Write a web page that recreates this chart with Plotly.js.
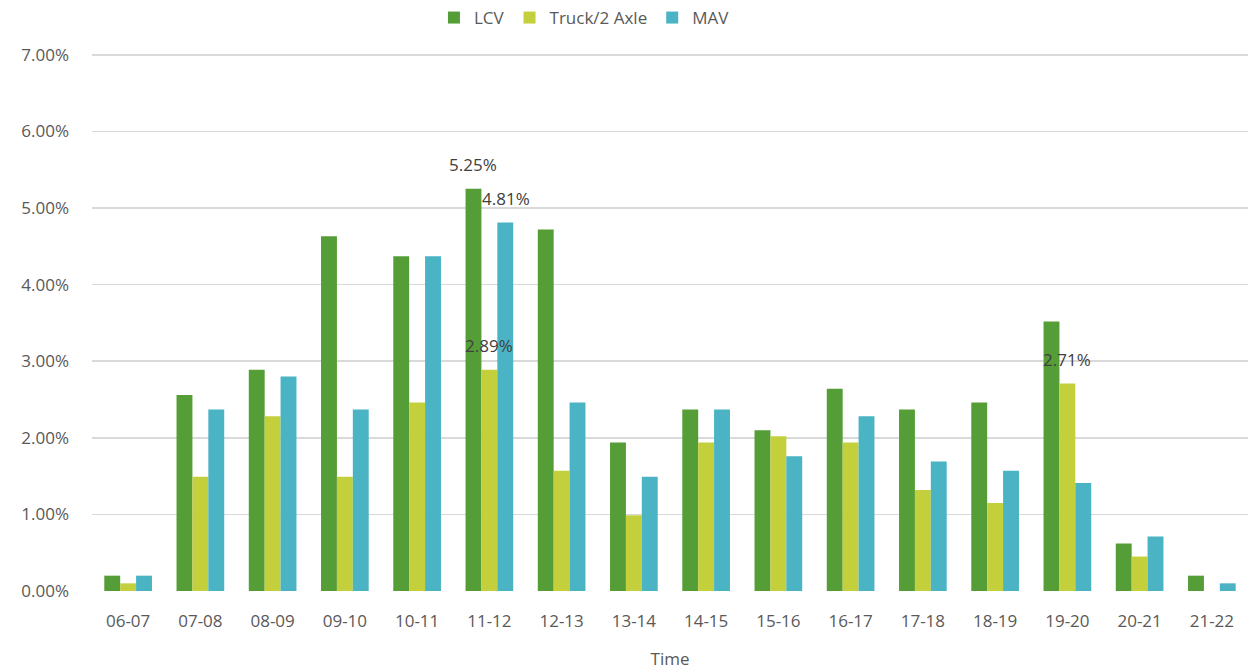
<!DOCTYPE html>
<html>
<head>
<meta charset="utf-8">
<script src="https://cdn.plot.ly/plotly-3.0.1.min.js"></script>
<style>html,body{margin:0;padding:0;background:#fff;}#chart{width:1249px;height:670px;}</style>
</head>
<body>
<div id="chart"></div>
<script>
const categories = ["06-07","07-08","08-09","09-10","10-11","11-12","12-13","13-14","14-15","15-16","16-17","17-18","18-19","19-20","20-21","21-22"];
const lcv   = [0.20, 2.56, 2.89, 4.63, 4.37, 5.25, 4.72, 1.94, 2.37, 2.10, 2.64, 2.37, 2.46, 3.52, 0.62, 0.20];
const truck = [0.10, 1.49, 2.28, 1.49, 2.46, 2.89, 1.57, 0.99, 1.94, 2.02, 1.94, 1.32, 1.15, 2.71, 0.45, 0.00];
const mav   = [0.20, 2.37, 2.80, 2.37, 4.37, 4.81, 2.46, 1.49, 2.37, 1.76, 2.28, 1.69, 1.57, 1.41, 0.71, 0.10];
const yTicks = [0, 1, 2, 3, 4, 5, 6, 7];
const yTickLabels = ["0.00%","1.00%","2.00%","3.00%","4.00%","5.00%","6.00%","7.00%"];
// labelled points: [series index, category index]
const labelled = [[0, 5], [2, 5], [1, 5], [1, 13]];

const seriesNames = ["LCV", "Truck/2 Axle", "MAV"];
const seriesData = [lcv, truck, mav];
const colors = ["#559E37", "#C3D03B", "#4AB4C5"];

const traces = seriesData.map((d, i) => ({
  type: "bar", name: seriesNames[i], x: categories, y: d,
  marker: {color: colors[i], line: {width: 0}},
  hoverinfo: "x+y"
}));

const barPx = 16.5;
const annotations = labelled.map(([s, c]) => ({
  x: categories[c], y: seriesData[s][c], xref: "x", yref: "y",
  text: seriesData[s][c].toFixed(2) + "%", showarrow: false,
  xshift: (s - 1) * barPx, yshift: 24, yanchor: "middle",
  font: {family: "Open Sans, sans-serif", size: 17, color: "#404040"}
}));

const layout = {
  width: 1249, height: 670,
  margin: {l: 92, r: 1, t: 51, b: 79},
  paper_bgcolor: "#fff", plot_bgcolor: "#fff",
  barmode: "group", bargap: 0.34, bargroupgap: 0,
  font: {family: "Open Sans, sans-serif", size: 17, color: "#595959"},
  showlegend: true,
  legend: {orientation: "h", x: 0.426, xanchor: "center", y: 1, yref: "container", yanchor: "top",
           itemwidth: 30, font: {size: 17, color: "#595959"}, traceorder: "normal"},
  xaxis: {type: "category", showgrid: false, zeroline: false, showline: false, ticks: "",
          ticklabelstandoff: 18,
          tickfont: {size: 17, color: "#595959"},
          title: {text: "Time", font: {size: 17, color: "#595959"}, standoff: 22}},
  yaxis: {range: [0, 7.05], tickvals: yTicks, ticktext: yTickLabels, showgrid: true,
          gridcolor: "#D9D9D9", gridwidth: 1.5, zeroline: false, showline: false, ticks: "",
          ticklabelstandoff: 22, tickfont: {size: 17, color: "#595959"}},
  annotations: annotations
};

Plotly.newPlot("chart", traces, layout, {displayModeBar: false, staticPlot: true});
</script>
</body>
</html>
